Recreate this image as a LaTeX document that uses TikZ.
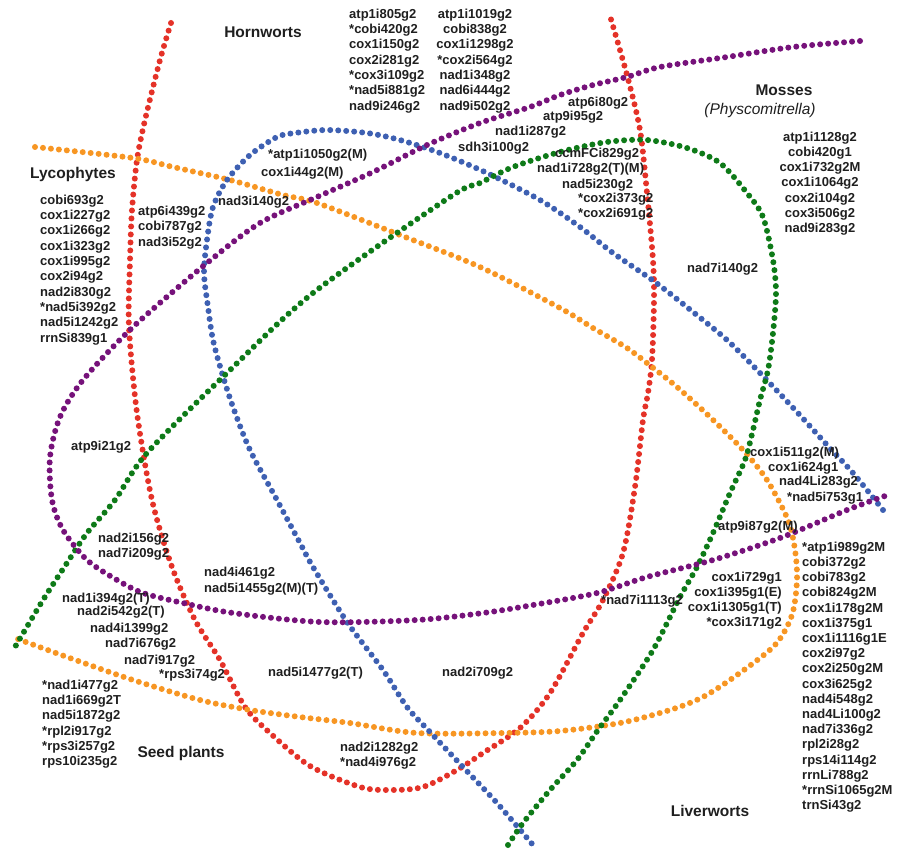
\documentclass[tikz,border=0pt]{standalone}
\usepackage{fontspec}
\setmainfont{Liberation Sans}
\definecolor{hornred}{RGB}{228,50,40}
\definecolor{seedorange}{RGB}{247,150,35}
\definecolor{liverblue}{RGB}{62,96,178}
\definecolor{mossgreen}{RGB}{14,122,24}
\definecolor{lycopurple}{RGB}{118,18,122}
\begin{document}
\begin{tikzpicture}[x=1pt,y=-1pt,
  every node/.style={font=\bfseries\fontsize{13}{15}\selectfont,inner sep=0pt,text=black!88},
  title/.style={font=\bfseries\fontsize{15.5}{18}\selectfont},
  dots/.style={line width=6pt,line cap=round,dash pattern=on 0pt off 8pt}]
\useasboundingbox (0,0) rectangle (898,850);
% group borders
\draw[dots,hornred] plot[smooth] coordinates {(171,23) (160,60) (145,120) (137,160) (132,210) (130,260) (129,327) (137,413) (152,500) (172,567) (195,620) (220,660) (245,707) (270,733) (310,766) (360,787) (390,790) (423,787) (457,770) (483,753) (520,728) (550,693) (583,633) (603,600) (623,553) (635,487) (643,420) (648,393) (652,360) (654,300) (653,260) (647,193) (640,130) (627,75) (610,16)};
\draw[dots,seedorange] plot[smooth] coordinates {(35,147) (133,158) (173,167) (230,180) (283,195) (317,203) (400,235) (480,267) (560,308) (593,328) (627,348) (652,367) (677,387) (710,417) (743,450) (767,480) (788,520) (795,550) (797,580) (792,615) (775,645) (737,675) (703,697) (670,710) (620,723) (560,731) (503,733) (417,733) (350,723) (300,717) (250,710) (200,700) (133,680) (67,657) (15,638)};
\draw[dots,liverblue] plot[smooth] coordinates {(883,510) (853,473) (827,445) (797,412) (760,373) (727,340) (693,312) (655,282) (613,253) (580,227) (540,200) (487,173) (440,153) (400,140) (367,133) (327,130) (295,133) (277,137) (250,155) (227,180) (213,207) (207,240) (204,273) (208,307) (213,340) (222,373) (233,407) (250,450) (277,500) (300,543) (313,567) (347,622) (383,670) (407,707) (430,732) (463,767) (497,803) (533,845)};
\draw[dots,mossgreen] plot[smooth] coordinates {(508,845) (523,823) (550,790) (577,760) (598,730) (620,700) (653,650) (680,597) (697,567) (713,533) (730,493) (745,460) (753,430) (760,400) (768,370) (773,333) (776,293) (773,260) (763,217) (747,193) (720,163) (687,148) (647,140) (607,142) (560,152) (513,167) (480,183) (450,197) (313,293) (227,373) (147,453) (115,500) (87,533) (67,563) (43,600) (15,647)};
\draw[dots,lycopurple] plot[smooth] coordinates {(860,41) (793,47) (727,57) (660,67) (627,77) (593,85) (560,95) (530,107) (480,123) (427,145) (373,172) (317,197) (260,223) (207,263) (133,327) (83,380) (60,417) (50,457) (52,500) (63,530) (87,560) (117,580) (143,593) (183,603) (233,613) (320,622) (417,620) (483,613) (533,605) (597,593) (647,577) (713,560) (780,538) (847,510) (885,496)};
% group names
\node[title] (horn) at (263,32) {Hornworts};
\node[title] (moss) at (784,90) {Mosses};
\node[font=\itshape\fontsize{15.5}{18}\selectfont] (physco) at (760,110) {(Physcomitrella)};
\node[title] (lyco) at (73,174) {Lycophytes};
\node[title] (seed) at (181,753) {Seed plants};
\node[title] (liver) at (710,811) {Liverworts};
% intron lists
\foreach \g [count=\i from 0] in {atp1i805g2,*cobi420g2,cox1i150g2,cox2i281g2,*cox3i109g2,*nad5i881g2,nad9i246g2}
  \node[anchor=west] (hornA\i) at (349,{15+15.3*\i}) {\g};
\foreach \g [count=\i from 0] in {atp1i1019g2,cobi838g2,cox1i1298g2,*cox2i564g2,nad1i348g2,nad6i444g2,nad9i502g2}
  \node (hornB\i) at (475,{15+15.3*\i}) {\g};
\foreach \g [count=\i from 0] in {atp1i1128g2,cobi420g1,cox1i732g2M,cox1i1064g2,cox2i104g2,cox3i506g2,nad9i283g2}
  \node (mossA\i) at (820,{138+15.2*\i}) {\g};
\foreach \g [count=\i from 0] in {cobi693g2,cox1i227g2,cox1i266g2,cox1i323g2,cox1i995g2,cox2i94g2,nad2i830g2,*nad5i392g2,nad5i1242g2,rrnSi839g1}
  \node[anchor=west] (lycoA\i) at (40,{201+15.3*\i}) {\g};
\foreach \g [count=\i from 0] in {atp6i439g2,cobi787g2,nad3i52g2}
  \node[anchor=west] (lycoB\i) at (138,{212+15.6*\i}) {\g};
\foreach \g [count=\i from 0] in {*nad1i477g2,nad1i669g2T,nad5i1872g2,*rpl2i917g2,*rps3i257g2,rps10i235g2}
  \node[anchor=west] (seedA\i) at (42,{686+15.3*\i}) {\g};
\foreach \g [count=\i from 0] in {*atp1i989g2M,cobi372g2,cobi783g2,cobi824g2M,cox1i178g2M,cox1i375g1,cox1i1116g1E,cox2i97g2,cox2i250g2M,cox3i625g2,nad4i548g2,nad4Li100g2,nad7i336g2,rpl2i28g2,rps14i114g2,rrnLi788g2,*rrnSi1065g2M,trnSi43g2}
  \node[anchor=west] (liverA\i) at (802,{548+15.2*\i}) {\g};
\foreach \g [count=\i from 0] in {cox1i729g1,cox1i395g1(E),cox1i1305g1(T),*cox3i171g2}
  \node[anchor=east] (liverB\i) at (782,{578+15*\i}) {\g};
\foreach \x/\y/\g [count=\i] in {458/148/sdh3i100g2,495/132/nad1i287g2,543/117/atp9i95g2,568/103/atp6i80g2,
    268/155/*atp1i1050g2(M),261/173/cox1i44g2(M),218/202/nad3i140g2,
    555/154/ccmFCi829g2,537/169/nad1i728g2(T)(M),562/185/nad5i230g2,578/199/*cox2i373g2,578/214/*cox2i691g2,
    687/269/nad7i140g2,71/447/atp9i21g2,98/539/nad2i156g2,98/554/nad7i209g2,
    204/573/nad4i461g2,204/589/nad5i1455g2(M)(T),62/599/nad1i394g2(T),77/612/nad2i542g2(T),
    90/629/nad4i1399g2,105/644/nad7i676g2,124/661/nad7i917g2,159/675/*rps3i74g2,
    268/673/nad5i1477g2(T),442/673/nad2i709g2,340/748/nad2i1282g2,340/763/*nad4i976g2,
    750/453/cox1i511g2(M),768/468/cox1i624g1,779/482/nad4Li283g2,787/498/*nad5i753g1,
    718/527/atp9i87g2(M),601/601/*nad7i1113g2}
  \node[anchor=west] (one\i) at (\x,\y) {\g};
\end{tikzpicture}
\end{document}
